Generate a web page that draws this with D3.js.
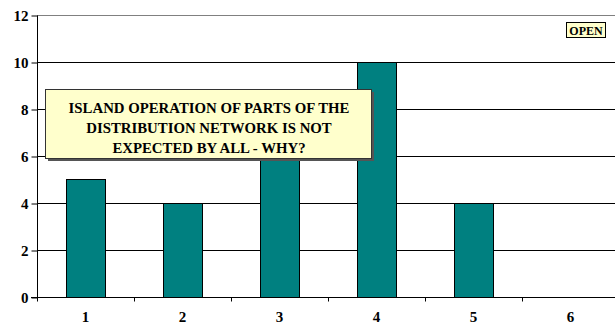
<!DOCTYPE html>
<html>
<head>
<meta charset="utf-8">
<script src="https://cdn.jsdelivr.net/npm/d3@7"></script>
<style>
  html, body { margin: 0; padding: 0; background: #fff; }
  svg { display: block; }
</style>
</head>
<body>
<svg id="chart" width="615" height="324"></svg>
<script>
// Responses per category
const categories = ["1", "2", "3", "4", "5", "6"];
const counts = [5, 4, 6, 10, 4, 0];
const yTicks = [0, 2, 4, 6, 8, 10, 12];
const calloutLines = [
  "ISLAND OPERATION OF PARTS OF THE",
  "DISTRIBUTION NETWORK IS NOT",
  "EXPECTED BY ALL - WHY?"
];
const badgeText = "OPEN";

const FONT = "'Liberation Serif', 'Times New Roman', Times, 'DejaVu Serif', serif";
const svg = d3.select("#chart");
const plotLeft = 37, plotRight = 619, plotTop = 15, plotBottom = 297;

const x = d3.scaleBand().domain(categories).range([plotLeft, plotRight]).paddingInner(0.6).paddingOuter(0.3);
const xOuter = d3.scaleBand().domain(categories).range([plotLeft, plotRight]);
const y = d3.scaleLinear().domain([0, 12]).range([plotBottom, plotTop]);

function label(sel, size) {
  return sel.style("font-family", FONT).style("font-weight", "bold").style("font-size", size + "px").attr("fill", "#000");
}

// horizontal gridlines
svg.append("g")
  .selectAll("line")
  .data(yTicks.filter(d => d > 0))
  .join("line")
  .attr("x1", plotLeft).attr("x2", plotRight)
  .attr("y1", d => Math.round(y(d)) + 0.5).attr("y2", d => Math.round(y(d)) + 0.5)
  .attr("stroke", d => d === 12 ? "#808080" : "#000")
  .attr("stroke-width", 1);

// bars
svg.append("g")
  .selectAll("rect")
  .data(categories.map((c, i) => ({ c, v: counts[i] })).filter(d => d.v > 0))
  .join("rect")
  .attr("x", d => Math.round(x(d.c)) + 0.5)
  .attr("y", d => Math.round(y(d.v)) + 0.5)
  .attr("width", Math.round(x.bandwidth()))
  .attr("height", d => Math.round(y(0)) - Math.round(y(d.v)))
  .attr("fill", "#008080")
  .attr("stroke", "#000")
  .attr("stroke-width", 1);

// y axis
const yAxis = d3.axisLeft(y).tickValues(yTicks).tickSize(6).tickPadding(3).tickFormat(d3.format("d"));
const gy = svg.append("g").attr("transform", `translate(${plotLeft + 0.5},0.5)`).call(yAxis);
gy.select(".domain").attr("stroke", "#000").attr("d", `M0,${plotTop}V${plotBottom}`);
gy.selectAll(".tick line").attr("stroke", "#000");
label(gy.selectAll(".tick text"), 15).attr("dy", "0.34em");

// x axis with ticks on category boundaries
const gx = svg.append("g").attr("transform", `translate(0,${Math.round(plotBottom) + 0.5})`);
gx.append("line").attr("x1", plotLeft - 6).attr("x2", plotRight).attr("stroke", "#000");
gx.selectAll("line.tk")
  .data(categories)
  .join("line")
  .attr("class", "tk")
  .attr("x1", d => Math.round(xOuter(d)) + 0.5).attr("x2", d => Math.round(xOuter(d)) + 0.5)
  .attr("y1", 0).attr("y2", 4)
  .attr("stroke", "#000");
label(gx.selectAll("text")
  .data(categories)
  .join("text")
  .attr("x", d => xOuter(d) + xOuter.bandwidth() / 2)
  .attr("y", 24.5)
  .attr("text-anchor", "middle")
  .text(d => d), 15);

// callout box with drop shadow
const box = { x: 45, y: 89, w: 326, h: 69 };
svg.append("rect")
  .attr("x", box.x + 3).attr("y", box.y + 3)
  .attr("width", box.w).attr("height", box.h)
  .attr("fill", "#555");
svg.append("rect")
  .attr("x", box.x + 0.5).attr("y", box.y + 0.5)
  .attr("width", box.w).attr("height", box.h)
  .attr("fill", "#FFFFCC").attr("stroke", "#333").attr("stroke-width", 1);
label(svg.append("g")
  .selectAll("text")
  .data(calloutLines)
  .join("text")
  .attr("x", box.x + box.w / 2 + 1)
  .attr("y", (d, i) => 113 + i * 20)
  .attr("text-anchor", "middle")
  .text(d => d), 14.8);

// badge
svg.append("rect")
  .attr("x", 566.5).attr("y", 22.5).attr("width", 39).attr("height", 15)
  .attr("fill", "#FFFFCC").attr("stroke", "#000");
label(svg.append("text")
  .attr("x", 586).attr("y", 34.5)
  .attr("text-anchor", "middle")
  .text(badgeText), 12);
</script>
</body>
</html>
